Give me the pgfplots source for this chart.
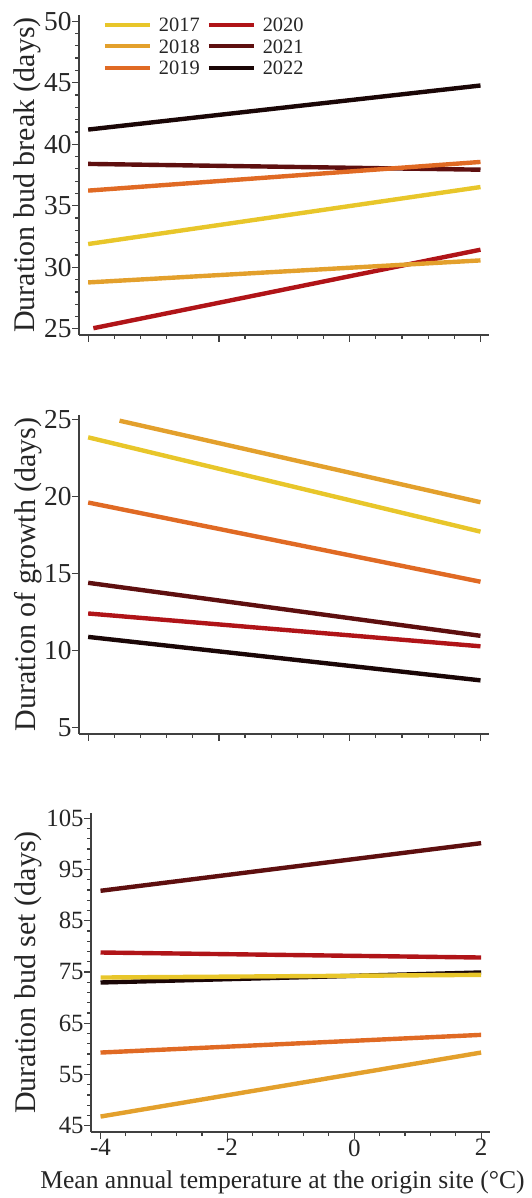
\documentclass[border=0pt]{standalone}
\usepackage{pgfplots}
\pgfplotsset{compat=1.18}
\usepackage{fontspec}
\setmainfont{Liberation Serif}
\definecolor{c17}{HTML}{E8C62A}
\definecolor{c18}{HTML}{E3A02C}
\definecolor{c19}{HTML}{E06A24}
\definecolor{c20}{HTML}{B01418}
\definecolor{c21}{HTML}{5E0F0F}
\definecolor{c22}{HTML}{1A0606}
\pgfplotsset{
  panel/.style={
    scale only axis,
    anchor=south west,
    axis x line*=bottom,
    axis y line*=left,
    axis line style={-, line width=0.7pt, color=black!75},
    tick align=outside,
    major tick length=3.5pt,
    minor tick length=2pt,
    every tick/.style={line width=0.6pt, black!75},
    yticklabel style={font=\fontsize{13.7}{13.7}\selectfont, text=black!85, inner sep=0pt, anchor=east},
    xticklabel style={font=\fontsize{12.5}{12.5}\selectfont, text=black!85, inner sep=0pt, anchor=north},
    xtick={-4,-2,0,2},
    minor x tick num=4,
    ylabel style={font=\fontsize{15}{15}\selectfont, text=black!85, anchor=center},
    every axis plot/.append style={line width=2.2pt},
    clip=false,
  }
}
\begin{document}
\begin{tikzpicture}
\useasboundingbox (0pt,0pt) rectangle (265.5pt,599pt);
% Panel 1
\begin{axis}[panel,
  at={(39.5pt,431.5pt)}, width=205pt, height=160pt,
  xmin=-4.14, xmax=2.13, ymin=24.5, ymax=50.5,
  ytick={25,30,35,40,45,50}, yticklabels={25,30,35,40,45,50}, minor y tick num=4,
  xticklabels={},
  ylabel={Duration bud break (days)},
  ylabel style={at={(axis description cs:-0.125,0.5)}},
  legend columns=2,
  legend image code/.code={\draw[#1, line width=2pt] (0pt,0pt) -- (22.5pt,0pt);},
  legend style={draw=none, fill=none, inner sep=0pt, outer sep=0pt,
    at={(axis description cs:0.0585,0.9906)}, anchor=north west,
    font=\fontsize{10.2}{10.2}\selectfont,
    nodes={inner sep=0pt, text=black!85, text height=7pt, text depth=0pt},
    column sep=3.5pt, row sep=3.75pt},
  legend cell align=left,
]
\addplot[c17] coordinates {(-4,31.89) (2,36.52)}; \addlegendentry{2017}
\addplot[c20] coordinates {(-3.92,25.05) (2,31.43)}; \addlegendentry{2020}
\addplot[c18] coordinates {(-4,28.77) (2,30.56)}; \addlegendentry{2018}
\addplot[c21] coordinates {(-4,38.40) (2,37.93)}; \addlegendentry{2021}
\addplot[c19] coordinates {(-4,36.23) (2,38.56)}; \addlegendentry{2019}
\addplot[c22] coordinates {(-4,41.19) (2,44.77)}; \addlegendentry{2022}
\end{axis}
% Panel 2
\begin{axis}[panel,
  at={(39.5pt,232pt)}, width=205pt, height=159.5pt,
  xmin=-4.14, xmax=2.13, ymin=4.6, ymax=25.3,
  ytick={5,10,15,20,25}, yticklabels={5,10,15,20,25},
  xticklabels={},
  ylabel={Duration of growth (days)},
  ylabel style={at={(axis description cs:-0.125,0.5)}},
]
\addplot[c17] coordinates {(-4,23.85) (2,17.73)};
\addplot[c18] coordinates {(-3.52,24.93) (2,19.64)};
\addplot[c19] coordinates {(-4,19.62) (2,14.48)};
\addplot[c20] coordinates {(-4,12.42) (2,10.29)};
\addplot[c21] coordinates {(-4,14.41) (2,10.97)};
\addplot[c22] coordinates {(-4,10.90) (2,8.08)};
\end{axis}
% Panel 3
\begin{axis}[panel,
  at={(45.5pt,33pt)}, width=199.5pt, height=159.5pt,
  xmin=-4.15, xmax=2.14, ymin=43.8, ymax=106,
  ytick={45,55,65,75,85,95,105}, yticklabels={45,55,65,75,85,95,105}, minor y tick num=4,
  yticklabel style={font=\fontsize{12.4}{12.4}\selectfont},
  xticklabels={-4,-2,0,2},
  ylabel={Duration bud set (days)},
  ylabel style={at={(axis description cs:-0.158,0.5)}},
  xlabel={Mean annual temperature at the origin site (°C)},
  xlabel style={at={(axis description cs:0.48,-0.157)}, anchor=center, font=\fontsize{12.8}{12.8}\selectfont, text=black!85},
]
\addplot[c18] coordinates {(-4,46.81) (2,59.29)};
\addplot[c19] coordinates {(-4,59.29) (2,62.74)};
\addplot[c20] coordinates {(-4,78.80) (2,77.82)};
\addplot[c21] coordinates {(-4,90.83) (2,100.12)};
\addplot[c22] coordinates {(-4,72.95) (2,74.90)};
\addplot[c17] coordinates {(-4,73.92) (2,74.44)};
\end{axis}
\end{tikzpicture}
\end{document}
